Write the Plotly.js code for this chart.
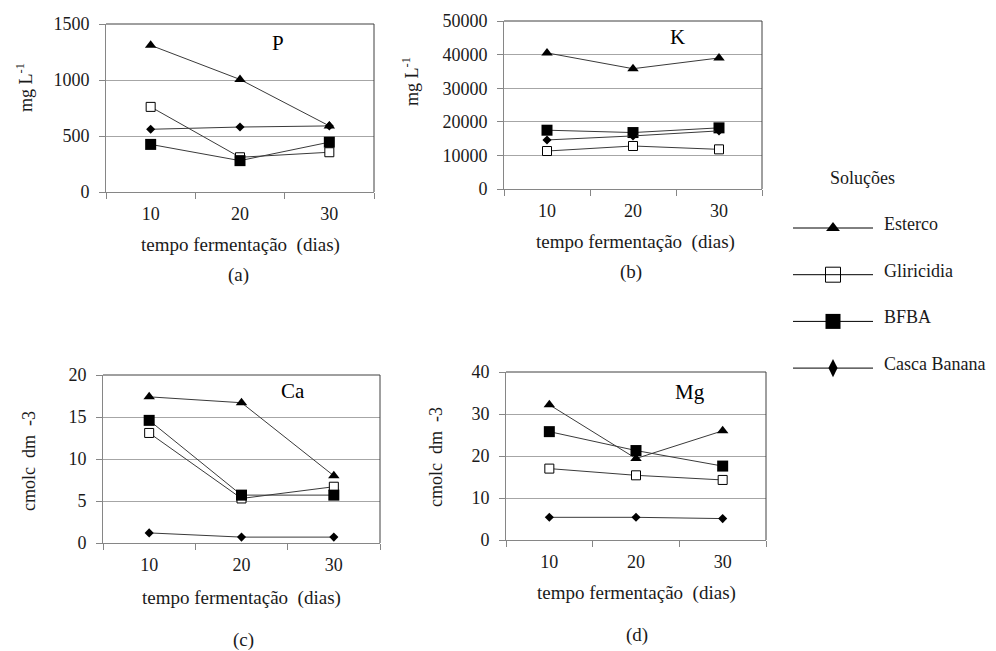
<!DOCTYPE html>
<html><head><meta charset="utf-8">
<script src="https://cdn.plot.ly/plotly-3.0.1.min.js"></script>
<style>html,body{margin:0;padding:0;background:#fff}#chart{width:996px;height:651px}</style>
</head><body><div id="chart"></div>
<script>
// ---- data ----
const days = ['10', '20', '30'];
const seriesNames = ['Esterco', 'Gliricidia', 'BFBA', 'Casca Banana'];

const P_esterco = [1310, 1005, 590];
const P_gliricidia = [760, 310, 355];
const P_bfba = [425, 280, 445];
const P_casca = [560, 580, 590];

const K_esterco = [40500, 35800, 39000];
const K_gliricidia = [11300, 12800, 11800];
const K_bfba = [17500, 16800, 18200];
const K_casca = [14600, 15800, 17300];

const Ca_esterco = [17.4, 16.7, 8.0];
const Ca_gliricidia = [13.1, 5.3, 6.7];
const Ca_bfba = [14.6, 5.7, 5.7];
const Ca_casca = [1.2, 0.7, 0.7];

const Mg_esterco = [32.2, 19.4, 26.0];
const Mg_gliricidia = [17.0, 15.4, 14.3];
const Mg_bfba = [25.8, 21.3, 17.6];
const Mg_casca = [5.4, 5.4, 5.1];

const yTicksP = [0, 500, 1000, 1500];
const yTicksK = [0, 10000, 20000, 30000, 40000, 50000];
const yTicksCa = [0, 5, 10, 15, 20];
const yTicksMg = [0, 10, 20, 30, 40];

// ---- styles ----
const W = 996, H = 651;
const FONT = 'Liberation Serif';
const px = x => x / W;
const py = y => 1 - y / H;
const LINE = '#3a3a3a';
const NB = '\u00a0';
const markerStyles = [
  {symbol: 'triangle-up', size: 10, color: '#000', line: {width: 0}},
  {symbol: 'square', size: 9, color: '#fff', line: {color: '#000', width: 1}},
  {symbol: 'square', size: 11, color: '#000', line: {width: 0}},
  {symbol: 'diamond', size: 7, color: '#000', line: {width: 0}}
];
const legendMarkers = [
  {symbol: 'triangle-up', size: 12, color: '#000', line: {width: 0}},
  {symbol: 'square', size: 15, color: '#fff', line: {color: '#000', width: 1}},
  {symbol: 'square', size: 15, color: '#000', line: {width: 0}},
  {symbol: 'diamond-tall', size: 13, color: '#000', line: {width: 0}}
];

const panels = [
  {s: '', series: [P_esterco, P_gliricidia, P_bfba, P_casca], ticks: yTicksP,
   dom: [106, 374, 24, 192], name: 'P', namePos: [278, 43],
   ytitle: 'mg L<sup>-1</sup>', ytPos: [24, 88], xtPos: [240, 245], letter: '(a)', letPos: [238, 275]},
  {s: '2', series: [K_esterco, K_gliricidia, K_bfba, K_casca], ticks: yTicksK,
   dom: [504, 762, 21, 189], name: 'K', namePos: [677, 37],
   ytitle: 'mg L<sup>-1</sup>', ytPos: [410, 82], xtPos: [635, 242], letter: '(b)', letPos: [631, 272]},
  {s: '3', series: [Ca_esterco, Ca_gliricidia, Ca_bfba, Ca_casca], ticks: yTicksCa,
   dom: [103, 380, 375, 543], name: 'Ca', namePos: [293, 391],
   ytitle: 'cmolc' + NB + NB + 'dm' + NB + NB + '-3', ytPos: [29, 461], xtPos: [241, 598], letter: '(c)', letPos: [243, 640]},
  {s: '4', series: [Mg_esterco, Mg_gliricidia, Mg_bfba, Mg_casca], ticks: yTicksMg,
   dom: [506, 766, 372, 540], name: 'Mg', namePos: [690, 392],
   ytitle: 'cmolc' + NB + NB + 'dm' + NB + NB + '-3', ytPos: [436, 457], xtPos: [636, 593], letter: '(d)', letPos: [637, 635]}
];

const data = [];
const layout = {
  width: W, height: H, margin: {l: 0, r: 0, t: 0, b: 0},
  paper_bgcolor: '#fff', plot_bgcolor: '#fff',
  showlegend: false, font: {family: FONT, size: 18, color: '#1a1a1a'},
  annotations: [], shapes: []
};

panels.forEach(p => {
  p.series.forEach((vals, i) => {
    data.push({
      x: days, y: vals, xaxis: 'x' + p.s, yaxis: 'y' + p.s, name: seriesNames[i],
      type: 'scatter', mode: 'lines+markers', showlegend: false,
      line: {color: LINE, width: 1}, marker: markerStyles[i], cliponaxis: false,
      hoverinfo: 'x+y+name'
    });
  });
  const [x0, x1, y0, y1] = p.dom;
  layout['xaxis' + p.s] = {
    type: 'category', domain: [px(x0), px(x1)], anchor: 'y' + p.s, range: [-0.5, 2.5],
    showgrid: false, zeroline: false, showline: true, linecolor: '#868686', linewidth: 1,
    ticks: 'outside', tickson: 'boundaries', ticklen: 6, tickcolor: '#868686',
    ticklabelstandoff: 5, tickfont: {family: FONT, size: 18, color: '#1a1a1a'}, fixedrange: true
  };
  const tk = p.ticks;
  layout['yaxis' + p.s] = {
    domain: [py(y1), py(y0)], anchor: 'x' + p.s, range: [tk[0], tk[tk.length - 1]],
    tickvals: tk, tickformat: 'd', showgrid: true, gridcolor: '#a6a6a6', gridwidth: 1,
    zeroline: false, showline: true, linecolor: '#868686', linewidth: 1,
    ticks: 'outside', ticklen: 6, tickcolor: '#868686', ticklabelstandoff: 6,
    tickfont: {family: FONT, size: 18, color: '#1a1a1a'}, fixedrange: true
  };
  const xd = 'x' + p.s + ' domain', yd = 'y' + p.s + ' domain';
  layout.shapes.push(
    {type: 'line', xref: xd, yref: yd, x0: 0, x1: 1, y0: 1, y1: 1, line: {color: '#404040', width: 1}},
    {type: 'line', xref: xd, yref: yd, x0: 1, x1: 1, y0: 0, y1: 1, line: {color: '#404040', width: 1}}
  );
  layout.annotations.push(
    {xref: 'paper', yref: 'paper', x: px(p.namePos[0]), y: py(p.namePos[1]), text: p.name,
     showarrow: false, font: {family: FONT, size: 21, color: '#000'}, xanchor: 'center', yanchor: 'middle'},
    {xref: 'paper', yref: 'paper', x: px(p.ytPos[0]), y: py(p.ytPos[1]), text: p.ytitle, textangle: -90,
     showarrow: false, font: {family: FONT, size: 18, color: '#1a1a1a'}, xanchor: 'center', yanchor: 'middle'},
    {xref: 'paper', yref: 'paper', x: px(p.xtPos[0]), y: py(p.xtPos[1]), text: 'tempo fermentação' + NB + NB + '(dias)',
     showarrow: false, font: {family: FONT, size: 19, color: '#1a1a1a'}, xanchor: 'center', yanchor: 'middle'},
    {xref: 'paper', yref: 'paper', x: px(p.letPos[0]), y: py(p.letPos[1]), text: p.letter,
     showarrow: false, font: {family: FONT, size: 19, color: '#1a1a1a'}, xanchor: 'center', yanchor: 'middle'}
  );
});

// ---- custom legend (lines as shapes, markers on a hidden axis) ----
const legRowY = i => 228 + i * 46.7;
layout.xaxis5 = {domain: [px(793), px(873)], range: [0, 2], visible: false, fixedrange: true, anchor: 'y5'};
layout.yaxis5 = {domain: [py(legRowY(3)), py(legRowY(0))], range: [3, 0], visible: false, fixedrange: true, anchor: 'x5'};
seriesNames.forEach((nm, i) => {
  layout.shapes.push({type: 'line', xref: 'paper', yref: 'paper', x0: px(793), x1: px(873),
    y0: py(legRowY(i)), y1: py(legRowY(i)), line: {color: '#000', width: 1}});
  data.push({
    x: [1], y: [i], xaxis: 'x5', yaxis: 'y5', type: 'scatter', mode: 'markers',
    showlegend: false, hoverinfo: 'skip', marker: legendMarkers[i], cliponaxis: false
  });
  layout.annotations.push({
    xref: 'paper', yref: 'paper', x: px(882), y: py(legRowY(i) - 4), text: nm, showarrow: false,
    xanchor: 'left', yanchor: 'middle', font: {family: FONT, size: 18, color: '#1a1a1a'}
  });
});
layout.annotations.push({
  xref: 'paper', yref: 'paper', x: px(862), y: py(178), text: 'Soluções', showarrow: false,
  xanchor: 'center', yanchor: 'middle', font: {family: FONT, size: 18, color: '#1a1a1a'}
});

Plotly.newPlot('chart', data, layout, {displayModeBar: false, staticPlot: true});
</script>
</body></html>
